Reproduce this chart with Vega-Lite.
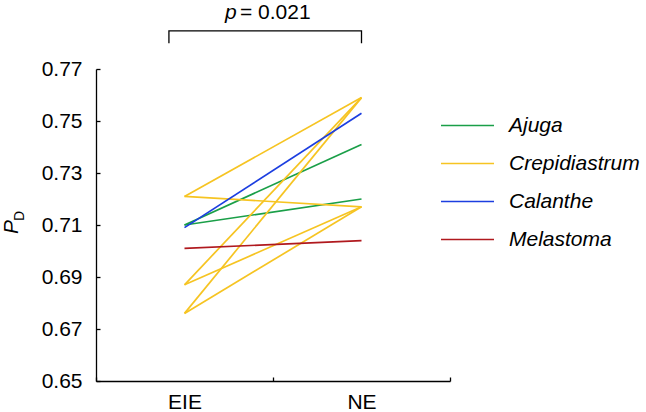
{
  "$schema": "https://vega.github.io/schema/vega-lite/v6.json",
  "width": 354,
  "height": 312,
  "autosize": {"type": "none"},
  "padding": {"left": 96, "top": 69, "right": 196, "bottom": 31},
  "background": "white",
  "config": {
    "view": {"stroke": null},
    "font": "Liberation Sans",
    "axis": {
      "domainColor": "#000000",
      "domainWidth": 1.3,
      "tickColor": "#000000",
      "tickWidth": 1.3,
      "labelColor": "#000000",
      "labelFont": "Liberation Sans",
      "labelFontSize": 21,
      "grid": false,
      "title": null
    }
  },
  "resolve": {"scale": {"x": "independent"}},
  "layer": [
    {
      "data": {
        "values": [
          {"id": "a1", "genus": "Ajuga", "stage": "EIE", "value": 0.710},
          {"id": "a1", "genus": "Ajuga", "stage": "NE", "value": 0.741},
          {"id": "a2", "genus": "Ajuga", "stage": "EIE", "value": 0.710},
          {"id": "a2", "genus": "Ajuga", "stage": "NE", "value": 0.720},
          {"id": "c1", "genus": "Crepidiastrum", "stage": "EIE", "value": 0.721},
          {"id": "c1", "genus": "Crepidiastrum", "stage": "NE", "value": 0.759},
          {"id": "c2", "genus": "Crepidiastrum", "stage": "EIE", "value": 0.721},
          {"id": "c2", "genus": "Crepidiastrum", "stage": "NE", "value": 0.717},
          {"id": "c3", "genus": "Crepidiastrum", "stage": "EIE", "value": 0.687},
          {"id": "c3", "genus": "Crepidiastrum", "stage": "NE", "value": 0.717},
          {"id": "c4", "genus": "Crepidiastrum", "stage": "EIE", "value": 0.687},
          {"id": "c4", "genus": "Crepidiastrum", "stage": "NE", "value": 0.759},
          {"id": "c5", "genus": "Crepidiastrum", "stage": "EIE", "value": 0.676},
          {"id": "c5", "genus": "Crepidiastrum", "stage": "NE", "value": 0.717},
          {"id": "c6", "genus": "Crepidiastrum", "stage": "EIE", "value": 0.676},
          {"id": "c6", "genus": "Crepidiastrum", "stage": "NE", "value": 0.759},
          {"id": "b1", "genus": "Calanthe", "stage": "EIE", "value": 0.709},
          {"id": "b1", "genus": "Calanthe", "stage": "NE", "value": 0.753},
          {"id": "m1", "genus": "Melastoma", "stage": "EIE", "value": 0.701},
          {"id": "m1", "genus": "Melastoma", "stage": "NE", "value": 0.704}
        ]
      },
      "mark": {"type": "line", "strokeWidth": 1.7},
      "encoding": {
        "x": {
          "field": "stage",
          "type": "nominal",
          "sort": ["EIE", "NE"],
          "scale": {"type": "band", "paddingInner": 0, "paddingOuter": 0},
          "axis": {"labelAngle": 0, "tickBand": "extent", "tickSize": -4, "labelPadding": 14}
        },
        "y": {
          "field": "value",
          "type": "quantitative",
          "scale": {"domain": [0.65, 0.77], "nice": false, "zero": false},
          "axis": {"values": [0.65, 0.67, 0.69, 0.71, 0.73, 0.75, 0.77], "format": ".2f", "tickSize": -4, "labelPadding": 18, "labelFlush": false}
        },
        "color": {
          "field": "genus",
          "type": "nominal",
          "scale": {
            "domain": ["Ajuga", "Crepidiastrum", "Calanthe", "Melastoma"],
            "range": ["#1a9f48", "#f6c422", "#1c3ee0", "#b0191e"]
          },
          "legend": {
            "title": null,
            "orient": "none",
            "legendX": 344,
            "legendY": 29,
            "padding": 0,
            "symbolType": "stroke",
            "symbolSize": 2809,
            "symbolStrokeWidth": 1.7,
            "labelFontSize": 21,
            "labelFontStyle": "italic",
            "labelFont": "Liberation Sans",
            "labelColor": "#000000",
            "labelOffset": 14,
            "rowPadding": -16
          }
        },
        "detail": {"field": "id"}
      }
    },
    {
      "data": {
        "values": [
          {"pos": 0.412, "v": 0.7799, "o": 1},
          {"pos": 0.412, "v": 0.7847, "o": 2},
          {"pos": 1.5, "v": 0.7847, "o": 3},
          {"pos": 1.5, "v": 0.7799, "o": 4}
        ]
      },
      "mark": {"type": "line", "color": "#000000", "strokeWidth": 1.3},
      "encoding": {
        "x": {"field": "pos", "type": "quantitative", "scale": {"domain": [0, 2], "nice": false, "zero": false}, "axis": null},
        "y": {"field": "v", "type": "quantitative"},
        "order": {"field": "o"}
      }
    },
    {
      "data": {"values": [{"pos": 0.729, "v": 0.7892, "t": "p"}]},
      "mark": {"type": "text", "align": "left", "baseline": "alphabetic", "fontSize": 21, "fontStyle": "italic", "color": "#000000"},
      "encoding": {
        "x": {"field": "pos", "type": "quantitative", "scale": {"domain": [0, 2], "nice": false, "zero": false}, "axis": null},
        "y": {"field": "v", "type": "quantitative"},
        "text": {"field": "t"}
      }
    },
    {
      "data": {"values": [{"pos": 0.8136, "v": 0.7892, "t": "= 0.021"}]},
      "mark": {"type": "text", "align": "left", "baseline": "alphabetic", "fontSize": 21, "color": "#000000"},
      "encoding": {
        "x": {"field": "pos", "type": "quantitative", "scale": {"domain": [0, 2], "nice": false, "zero": false}, "axis": null},
        "y": {"field": "v", "type": "quantitative"},
        "text": {"field": "t"}
      }
    },
    {
      "data": {"values": [{"pos": -0.438, "v": 0.7092, "t": "P"}]},
      "mark": {"type": "text", "align": "center", "baseline": "alphabetic", "angle": 270, "fontSize": 21, "fontStyle": "italic", "color": "#000000"},
      "encoding": {
        "x": {"field": "pos", "type": "quantitative", "scale": {"domain": [0, 2], "nice": false, "zero": false}, "axis": null},
        "y": {"field": "v", "type": "quantitative"},
        "text": {"field": "t"}
      }
    },
    {
      "data": {"values": [{"pos": -0.404, "v": 0.7135, "t": "D"}]},
      "mark": {"type": "text", "align": "center", "baseline": "alphabetic", "angle": 270, "fontSize": 14, "color": "#000000"},
      "encoding": {
        "x": {"field": "pos", "type": "quantitative", "scale": {"domain": [0, 2], "nice": false, "zero": false}, "axis": null},
        "y": {"field": "v", "type": "quantitative"},
        "text": {"field": "t"}
      }
    }
  ]
}
